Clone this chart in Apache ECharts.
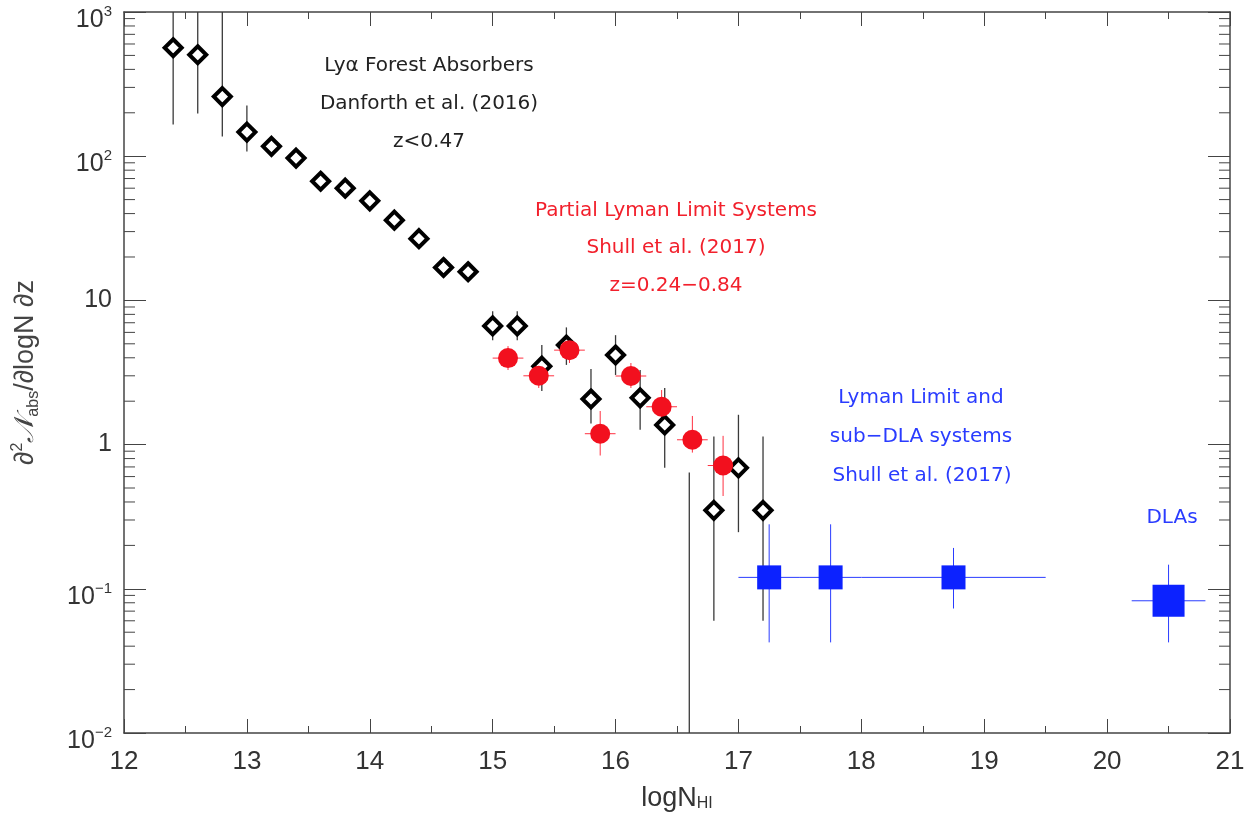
<!DOCTYPE html>
<html><head><meta charset="utf-8">
<script src="https://cdn.jsdelivr.net/npm/echarts@6/dist/echarts.min.js"></script>
<style>html,body{margin:0;padding:0;background:#fff}#c{width:1248px;height:817px}</style>
</head><body><div id="c"></div>
<script>
// ---- Lyα forest absorbers, Danforth et al. (2016) ----
const lyaX  = [12.4, 12.6, 12.8, 13.0, 13.2, 13.4, 13.6, 13.8, 14.0, 14.2, 14.4, 14.6, 14.8, 15.0, 15.2, 15.4, 15.6, 15.8, 16.0, 16.2, 16.4, 16.6, 16.8, 17.0, 17.2];
const lyaY  = [565, 505, 259, 147, 117, 97, 67, 60, 49, 36, 26.8, 16.9, 15.8, 6.65, 6.65, 3.5, 4.9, 2.07, 4.18, 2.11, 1.37, null, 0.35, 0.69, 0.35];
const lyaLo = [166, 198, 137, 108, 117, 97, 67, 60, 49, 36, 26.8, 16.9, 15.8, 5.3, 5.3, 2.35, 3.57, 1.4, 3.04, 1.27, 0.69, 0.001, 0.06, 0.247, 0.06];
const lyaHi = [3000, 3000, 3000, 225, 117, 97, 67, 60, 49, 36, 26.8, 16.9, 15.8, 8.4, 8.4, 4.9, 6.5, 3.34, 5.74, 3.29, 2.47, 0.64, 1.14, 1.61, 1.14];

// ---- Partial Lyman limit systems, Shull et al. (2017) ----
const pllsX   = [15.125, 15.375, 15.625, 15.875, 16.125, 16.375, 16.625, 16.875];
const pllsY   = [3.98, 3.0, 4.52, 1.19, 2.99, 1.83, 1.08, 0.716];
const pllsLo  = [3.29, 2.47, 3.68, 0.84, 2.47, 1.35, 0.88, 0.44];
const pllsHi  = [4.82, 3.68, 5.47, 1.71, 3.68, 2.39, 1.58, 1.15];
const pllsXLo = [15.0, 15.25, 15.5, 15.75, 16.0, 16.25, 16.5, 16.75];
const pllsXHi = [15.25, 15.5, 15.75, 16.0, 16.25, 16.5, 16.75, 17.0];

// ---- Lyman limit and sub-DLA systems, Shull et al. (2017) ----
const llsX   = [17.25, 17.75, 18.75];
const llsY   = [0.12, 0.12, 0.12];
const llsLo  = [0.0425, 0.0425, 0.073];
const llsHi  = [0.28, 0.28, 0.192];
const llsXLo = [17.0, 17.5, 18.0];
const llsXHi = [17.5, 18.0, 19.5];

// ---- DLAs ----
const dlaX   = [20.5];
const dlaY   = [0.0826];
const dlaLo  = [0.0425];
const dlaHi  = [0.147];
const dlaXLo = [20.2];
const dlaXHi = [20.8];

// ---- axis tick labels ----
const xTickLabels = ['12','13','14','15','16','17','18','19','20','21'];
const yTickExps   = [-2, -1, 0, 1, 2, 3];
const yTickLabels = ['{b|10}{s|−2}', '{b|10}{s|−1}', '{b|1}', '{b|10}', '{b|10}{s|2}', '{b|10}{s|3}'];
const yMinorMantissa = [2, 3, 4, 5, 6, 7, 8, 9];

const AXIS_FONT = "'Liberation Sans', Arial, sans-serif";
const NOTE_FONT = "'DejaVu Sans', sans-serif";
const NOTE_SIZE = '20px ';
const FRAME = '#444';

const minorVals = [];
for (let e = -2; e < 3; e++) for (const m of yMinorMantissa) minorVals.push(m * Math.pow(10, e));

function clampY(v, cs) { return Math.max(cs.y, Math.min(cs.y + cs.height, v)); }

function errorBars(xs, ys, lo, hi, xlo, xhi, color, width) {
  return {
    type: 'custom', clip: true, silent: true, z: 2,
    data: xs.map((x, i) => [x, ys[i] == null ? lo[i] : ys[i]]),
    renderItem: function (params, api) {
      const i = params.dataIndex, cs = params.coordSys;
      const ch = [];
      const a = api.coord([xs[i], hi[i]]), b = api.coord([xs[i], lo[i]]);
      ch.push({type: 'line', shape: {x1: a[0], y1: clampY(a[1], cs), x2: b[0], y2: clampY(b[1], cs)},
               style: {stroke: color, lineWidth: width}});
      if (xlo && ys[i] != null) {
        const c = api.coord([xlo[i], ys[i]]), d = api.coord([xhi[i], ys[i]]);
        ch.push({type: 'line', shape: {x1: c[0], y1: c[1], x2: d[0], y2: d[1]},
                 style: {stroke: color, lineWidth: width}});
      }
      return {type: 'group', children: ch};
    }
  };
}

const chart = echarts.init(document.getElementById('c'), null, {renderer: 'canvas'});

const xCommon = {
  type: 'value', min: 12, max: 21, interval: 1,
  splitLine: {show: false},
  axisLine: {show: true, onZero: false, lineStyle: {color: FRAME, width: 1.5}},
  axisTick: {show: true, inside: true, length: 14, lineStyle: {color: FRAME, width: 1}},
  minorTick: {show: true, splitNumber: 2, length: 7, lineStyle: {color: FRAME, width: 1}},
  minorSplitLine: {show: false}
};
const yCommon = {
  type: 'log', logBase: 10, min: 0.01, max: 1000,
  splitLine: {show: false},
  axisLine: {show: true, onZero: false, lineStyle: {color: FRAME, width: 1.5}},
  axisTick: {show: true, inside: true, length: 22, lineStyle: {color: FRAME, width: 1}}
};

function note(text, x, y, color) {
  return {type: 'text', x: x, y: y, style: {text: text, fill: color, font: NOTE_SIZE + NOTE_FONT, align: 'center', verticalAlign: 'middle'}};
}

const option = {
  animation: false,
  backgroundColor: '#fff',
  grid: {left: 124, right: 18, top: 12, bottom: 80, containLabel: false},
  xAxis: [
    Object.assign({}, xCommon, {
      position: 'bottom',
      axisLabel: {show: true, margin: 16, color: '#333', fontSize: 26, fontFamily: AXIS_FONT,
                  formatter: v => xTickLabels[Math.round(v) - 12]},
      name: '{t|logN}{sub|HI}', nameLocation: 'middle', nameGap: 47,
      nameTextStyle: {color: '#333', fontFamily: AXIS_FONT,
        rich: {t: {fontSize: 27, lineHeight: 32, color: '#333', fontFamily: AXIS_FONT, verticalAlign: 'bottom'},
               sub: {fontSize: 16, lineHeight: 16, color: '#333', fontFamily: AXIS_FONT, verticalAlign: 'bottom'}}}
    }),
    Object.assign({}, xCommon, {position: 'top', axisLabel: {show: false}})
  ],
  yAxis: [
    Object.assign({}, yCommon, {
      position: 'left',
      axisLabel: {show: true, margin: 12, color: '#333', fontFamily: AXIS_FONT,
        formatter: v => yTickLabels[yTickExps.indexOf(Math.round(Math.log10(v)))],
        rich: {b: {fontSize: 25, lineHeight: 25, verticalAlign: 'bottom', color: '#333', fontFamily: AXIS_FONT},
               s: {fontSize: 15, lineHeight: 41, color: '#333', fontFamily: AXIS_FONT}}},
      name: '{t|∂}{sup|2}{n|𝒩}{sub|abs}{t|/∂logN ∂z}', nameLocation: 'middle', nameGap: 82, nameRotate: 90,
      nameTextStyle: {color: '#444', fontFamily: AXIS_FONT,
        rich: {t: {fontSize: 27, lineHeight: 32, color: '#444', fontFamily: AXIS_FONT},
               n: {fontSize: 27, lineHeight: 32, color: '#444', fontFamily: "'DejaVu Sans', 'Noto Sans', serif", fontStyle: 'italic'},
               sup: {fontSize: 16, lineHeight: 16, verticalAlign: 'top', color: '#444', fontFamily: AXIS_FONT},
               sub: {fontSize: 16, lineHeight: 16, verticalAlign: 'bottom', color: '#444', fontFamily: AXIS_FONT}}}
    }),
    Object.assign({}, yCommon, {position: 'right', axisLabel: {show: false}})
  ],
  graphic: [
    note('Lyα Forest Absorbers', 429, 66, '#222'),
    note('Danforth et al. (2016)', 429, 104, '#222'),
    note('z<0.47', 429, 142, '#222'),
    note('Partial Lyman Limit Systems', 676, 211, '#f2202c'),
    note('Shull et al. (2017)', 676, 248, '#f2202c'),
    note('z=0.24−0.84', 676, 286, '#f2202c'),
    note('Lyman Limit and', 921, 398, '#2a3cff'),
    note('sub−DLA systems', 921, 437, '#2a3cff'),
    note('Shull et al. (2017)', 922, 476, '#2a3cff'),
    note('DLAs', 1172, 518, '#2a3cff')
  ],
  series: [
    // y-axis minor (log) ticks on left and right frame
    {
      type: 'custom', silent: true, z: 1,
      data: minorVals.map(v => [12, v]),
      renderItem: function (params, api) {
        const cs = params.coordSys;
        const p = api.coord([12, minorVals[params.dataIndex]]);
        return {type: 'group', children: [
          {type: 'line', shape: {x1: cs.x, y1: p[1], x2: cs.x + 11, y2: p[1]}, style: {stroke: FRAME, lineWidth: 1}},
          {type: 'line', shape: {x1: cs.x + cs.width, y1: p[1], x2: cs.x + cs.width - 11, y2: p[1]}, style: {stroke: FRAME, lineWidth: 1}}
        ]};
      }
    },
    errorBars(lyaX, lyaY, lyaLo, lyaHi, null, null, '#3a3a3a', 1.3),
    {
      type: 'scatter', z: 3, symbol: 'diamond', symbolSize: 17,
      itemStyle: {color: '#fff', borderColor: '#000', borderWidth: 4, opacity: 1},
      data: lyaX.map((x, i) => lyaY[i] == null ? [x, '-'] : [x, lyaY[i]])
    },
    errorBars(pllsX, pllsY, pllsLo, pllsHi, pllsXLo, pllsXHi, '#ff3040', 1),
    {
      type: 'scatter', z: 4, symbol: 'circle', symbolSize: 20,
      itemStyle: {color: '#f2101e', opacity: 1},
      data: pllsX.map((x, i) => [x, pllsY[i]])
    },
    errorBars(llsX, llsY, llsLo, llsHi, llsXLo, llsXHi, '#2a3cff', 1),
    {
      type: 'scatter', z: 5, symbol: 'rect', symbolSize: 24,
      itemStyle: {color: '#0c22ff', opacity: 1},
      data: llsX.map((x, i) => [x, llsY[i]])
    },
    errorBars(dlaX, dlaY, dlaLo, dlaHi, dlaXLo, dlaXHi, '#2a3cff', 1),
    {
      type: 'scatter', z: 5, symbol: 'rect', symbolSize: 32,
      itemStyle: {color: '#0c22ff', opacity: 1},
      data: dlaX.map((x, i) => [x, dlaY[i]])
    }
  ]
};
chart.setOption(option);
</script>
</body></html>
